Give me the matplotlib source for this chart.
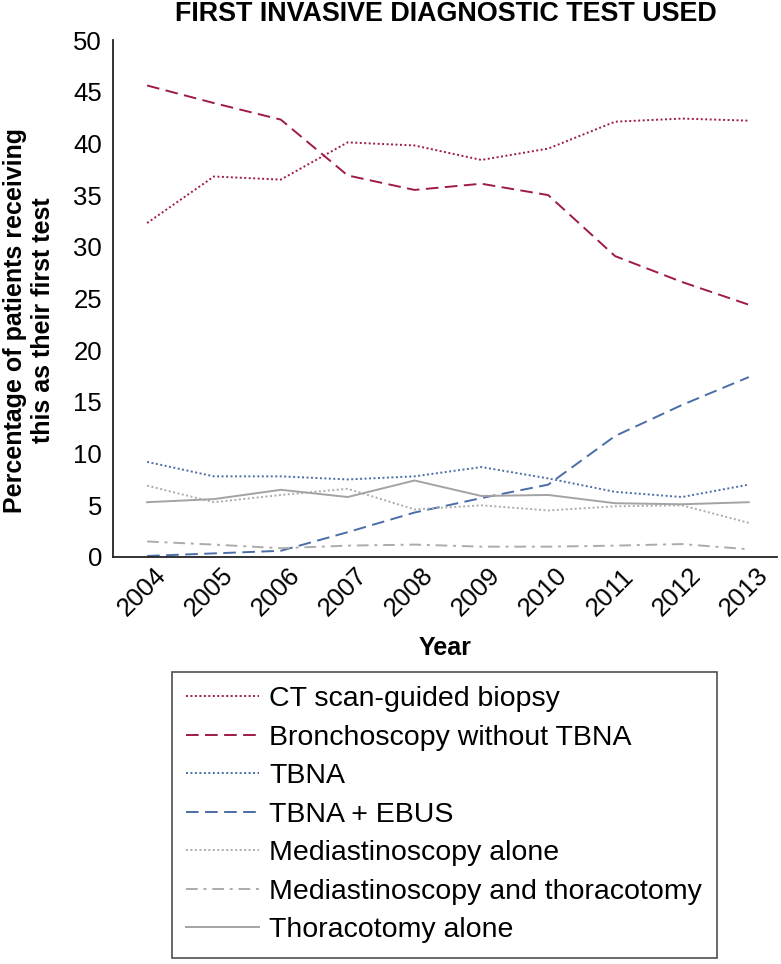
import matplotlib
matplotlib.use("Agg")
import matplotlib.pyplot as plt

years = [2004, 2005, 2006, 2007, 2008, 2009, 2010, 2011, 2012, 2013]
ct_biopsy = [32.3, 36.8, 36.5, 40.1, 39.8, 38.4, 39.5, 42.1, 42.4, 42.2]
bronch_no_tbna = [45.6, 43.9, 42.3, 36.9, 35.5, 36.1, 35.0, 29.1, 26.6, 24.4]
tbna = [9.2, 7.8, 7.8, 7.5, 7.8, 8.7, 7.6, 6.3, 5.8, 7.0]
tbna_ebus = [0.1, 0.35, 0.6, 2.4, 4.3, 5.7, 7.0, 11.7, 14.7, 17.4]
medi_alone = [6.9, 5.3, 6.0, 6.6, 4.6, 5.0, 4.5, 4.9, 5.0, 3.3]
medi_thora = [1.5, 1.2, 0.85, 1.1, 1.2, 1.0, 1.0, 1.1, 1.25, 0.75]
thora_alone = [5.3, 5.6, 6.5, 5.8, 7.4, 5.9, 6.0, 5.2, 5.1, 5.3]

labels = ["CT scan-guided biopsy", "Bronchoscopy without TBNA", "TBNA",
          "TBNA + EBUS", "Mediastinoscopy alone",
          "Mediastinoscopy and thoracotomy", "Thoracotomy alone"]
yticks = [0, 5, 10, 15, 20, 25, 30, 35, 40, 45, 50]

plt.rcParams['font.family'] = ['Liberation Sans', 'DejaVu Sans']

crimson = "#9E1A48"
blue = "#4A6DA7"
gray = "#ABABAB"
gray2 = "#A3A3A3"

fig = plt.figure(figsize=(7.81, 9.64), dpi=100)
ax = fig.add_axes([0.1447, 0.4222, 0.85, 0.5363])

lw = 1.4
dot = (0, (1.0, 1.3))
dash = (0, (6.5, 3.3))
series = [
    (ct_biopsy, crimson, dot),
    (bronch_no_tbna, crimson, dash),
    (tbna, blue, dot),
    (tbna_ebus, blue, dash),
    (medi_alone, gray, dot),
    (medi_thora, gray, (0, (6, 3, 1.5, 3))),
    (thora_alone, gray2, '-'),
]
for (vals, c, ls), lab in zip(series, labels):
    ax.plot(years, vals, color=c, linestyle=ls, linewidth=lw, label=lab)

ax.set_xlim(2003.49, 2013.42)
ax.set_ylim(0, 50)
ax.set_yticks(yticks)
ax.set_xticks(years)
ax.set_xticklabels([str(y) for y in years], rotation=45, ha='center',
                   va='baseline', rotation_mode='anchor', fontsize=18.5)
ax.tick_params(axis='y', labelsize=18.5, length=0, pad=8)
ax.tick_params(axis='x', length=0, pad=28.8)
for s in ['top', 'right']:
    ax.spines[s].set_visible(False)
for s in ['left', 'bottom']:
    ax.spines[s].set_linewidth(1.3)
    ax.spines[s].set_color('#222222')

ax.set_xlabel("Year", fontsize=18, fontweight='bold')
ax.xaxis.set_label_coords(0.5, -0.153)
ax.set_ylabel("Percentage of patients receiving\nthis as their first test",
              fontsize=18, fontweight='bold', linespacing=1.2)
ax.yaxis.set_label_coords(-0.087, 0.458)

fig.text(0.571, 0.9855, "FIRST INVASIVE DIAGNOSTIC TEST USED",
         ha='center', va='center', fontsize=19.4, fontweight='bold')

leg = fig.legend(loc='upper left', bbox_to_anchor=(0.2202, 0.0062, 0.698, 0.2967),
                 mode='expand', fontsize=20.5, frameon=True, fancybox=False,
                 edgecolor='#222222', handlelength=2.55, handletextpad=0.37,
                 labelspacing=0.44, borderpad=0.5, borderaxespad=0)
leg.get_frame().set_linewidth(1.2)

fig.savefig("out.png", dpi=100)
